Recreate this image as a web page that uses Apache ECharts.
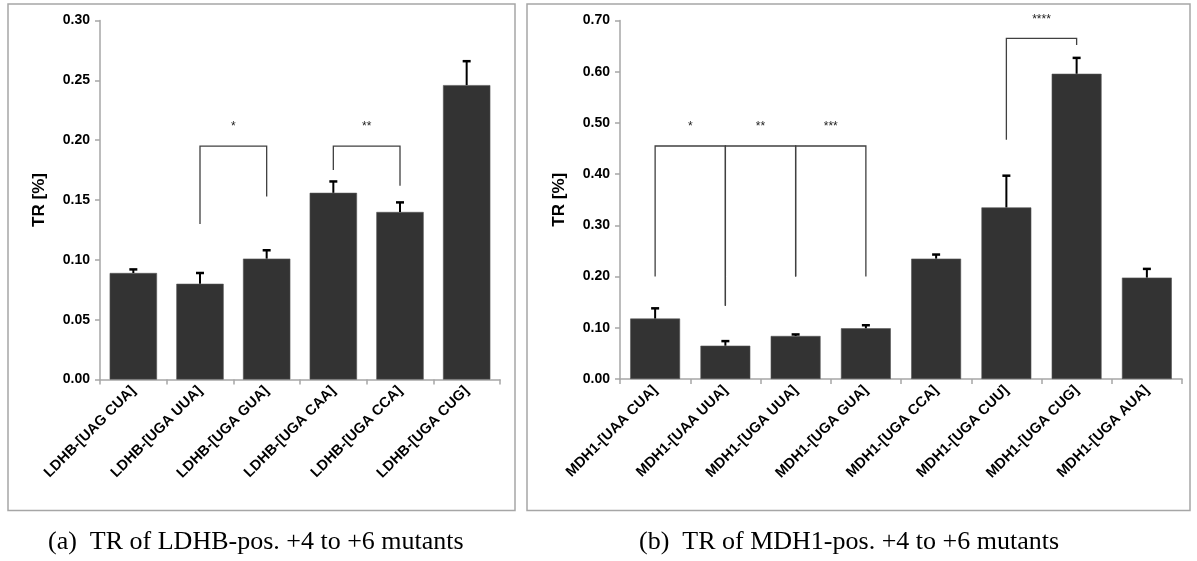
<!DOCTYPE html>
<html>
<head>
<meta charset="utf-8">
<script src="https://cdn.jsdelivr.net/npm/echarts@6/dist/echarts.min.js"></script>
<style>
  html, body { margin: 0; padding: 0; background: #ffffff; }
  #chart { width: 1197px; height: 561px; }
</style>
</head>
<body>
<div id="chart"></div>
<script>
// LDHB panel (a)
const ldhbCategories = ['LDHB-[UAG CUA]', 'LDHB-[UGA UUA]', 'LDHB-[UGA GUA]', 'LDHB-[UGA CAA]', 'LDHB-[UGA CCA]', 'LDHB-[UGA CUG]'];
const ldhbValues = [0.089, 0.080, 0.101, 0.156, 0.140, 0.246];
const ldhbErrors = [0.003, 0.009, 0.007, 0.0095, 0.008, 0.020];
// significance brackets: [fromIndex, toIndex, barHeight, leftLegEnd, rightLegEnd]
const ldhbBrackets = [[1, 2, 0.195, 0.130, 0.153], [3, 4, 0.195, 0.175, 0.162]];
const ldhbBracketLabels = ['*', '**'];

// MDH1 panel (b)
const mdh1Categories = ['MDH1-[UAA CUA]', 'MDH1-[UAA UUA]', 'MDH1-[UGA UUA]', 'MDH1-[UGA GUA]', 'MDH1-[UGA CCA]', 'MDH1-[UGA CUU]', 'MDH1-[UGA CUG]', 'MDH1-[UGA AUA]'];
const mdh1Values = [0.118, 0.065, 0.084, 0.099, 0.235, 0.335, 0.596, 0.198];
const mdh1Errors = [0.020, 0.009, 0.003, 0.006, 0.008, 0.062, 0.031, 0.017];
const mdh1Brackets = [[0, 1, 0.455, 0.200, 0.143], [1, 2, 0.455, 0.143, 0.200], [2, 3, 0.455, 0.200, 0.200], [5, 6, 0.665, 0.467, 0.652]];
const mdh1BracketLabels = ['*', '**', '***', '****'];

const captionA = '(a)  TR of LDHB-pos. +4 to +6 mutants';
const captionB = '(b)  TR of MDH1-pos. +4 to +6 mutants';

const AXIS_GRAY = '#a6a6a6';
const BAR_COLOR = '#333333';
const SANS = '"Liberation Sans", Arial, sans-serif';
const SERIF = '"Liberation Serif", "Times New Roman", serif';

// upward-only error bar with a short cap
function errorBarRender(params, api) {
  const x = api.value(0);
  const v = api.value(1);
  const e = api.value(2);
  const base = api.coord([x, v]);
  const top = api.coord([x, v + e]);
  const half = 4;
  return {
    type: 'group',
    children: [
      { type: 'line', shape: { x1: base[0], y1: base[1], x2: top[0], y2: top[1] }, style: { stroke: '#000', lineWidth: 2 } },
      { type: 'line', shape: { x1: top[0] - half, y1: top[1], x2: top[0] + half, y2: top[1] }, style: { stroke: '#000', lineWidth: 2.5 } }
    ]
  };
}

// significance bracket between two bars, with its star label above
function makeBracketRender(labels) {
  return function (params, api) {
    const a = api.value(0), b = api.value(1), h = api.value(2), l = api.value(3), r = api.value(4);
    const pL = api.coord([a, l]);
    const pLT = api.coord([a, h]);
    const pRT = api.coord([b, h]);
    const pR = api.coord([b, r]);
    return {
      type: 'group',
      children: [
        { type: 'polyline', shape: { points: [pL, pLT, pRT, pR] }, style: { stroke: '#404040', lineWidth: 1.3, fill: null } },
        { type: 'text', style: { text: labels[params.dataIndex], x: (pLT[0] + pRT[0]) / 2, y: pLT[1] - 19, align: 'center', verticalAlign: 'middle', font: '12px ' + SANS, fill: '#222' } }
      ]
    };
  };
}

function xAxisFor(cats, gridIndex) {
  return {
    type: 'category', gridIndex: gridIndex, data: cats,
    axisLine: { lineStyle: { color: AXIS_GRAY, width: 1.5 } },
    axisTick: { show: true, length: 5, lineStyle: { color: AXIS_GRAY, width: 1.5 } },
    axisLabel: { interval: 0, rotate: 45, margin: 9, fontFamily: SANS, fontWeight: 'bold', fontSize: 14.5, color: '#000' },
    splitLine: { show: false }
  };
}

function yAxisFor(max, interval, gridIndex) {
  return {
    type: 'value', gridIndex: gridIndex, min: 0, max: max, interval: interval,
    name: 'TR [%]', nameLocation: 'middle', nameRotate: 90, nameGap: 52,
    nameTextStyle: { fontFamily: SANS, fontWeight: 'bold', fontSize: 17, color: '#000' },
    axisLine: { show: true, lineStyle: { color: AXIS_GRAY, width: 1.5 } },
    axisTick: { show: true, length: 5, lineStyle: { color: AXIS_GRAY, width: 1.5 } },
    axisLabel: { margin: 10, fontFamily: SANS, fontWeight: 'bold', fontSize: 14, color: '#000', formatter: v => v.toFixed(2) },
    splitLine: { show: false }
  };
}

function barSeries(values, idx) {
  return {
    type: 'bar', xAxisIndex: idx, yAxisIndex: idx, data: values,
    barCategoryGap: '29%',
    itemStyle: { color: BAR_COLOR, borderColor: '#555', borderWidth: 0.6 },
    silent: true, animation: false
  };
}

function errorSeries(values, errors, idx) {
  return {
    type: 'custom', xAxisIndex: idx, yAxisIndex: idx,
    data: values.map((v, i) => [i, v, errors[i]]),
    encode: { x: 0, y: 1 },
    renderItem: errorBarRender, z: 5, silent: true, animation: false
  };
}

function bracketSeries(brackets, labels, idx) {
  return {
    type: 'custom', xAxisIndex: idx, yAxisIndex: idx,
    data: brackets,
    encode: { x: 0, y: 2 },
    renderItem: makeBracketRender(labels), z: 6, silent: true, animation: false, clip: false
  };
}

const chart = echarts.init(document.getElementById('chart'), null, { renderer: 'canvas' });
chart.setOption({
  backgroundColor: '#ffffff',
  animation: false,
  grid: [
    { left: 100, top: 20.5, width: 400, height: 359 },
    { left: 620, top: 20.5, width: 562, height: 358.5 }
  ],
  xAxis: [xAxisFor(ldhbCategories, 0), xAxisFor(mdh1Categories, 1)],
  yAxis: [yAxisFor(0.30, 0.05, 0), yAxisFor(0.70, 0.10, 1)],
  series: [
    barSeries(ldhbValues, 0),
    errorSeries(ldhbValues, ldhbErrors, 0),
    bracketSeries(ldhbBrackets, ldhbBracketLabels, 0),
    barSeries(mdh1Values, 1),
    errorSeries(mdh1Values, mdh1Errors, 1),
    bracketSeries(mdh1Brackets, mdh1BracketLabels, 1)
  ],
  graphic: [
    { type: 'rect', shape: { x: 8, y: 4, width: 507, height: 506.5 }, style: { fill: null, stroke: AXIS_GRAY, lineWidth: 1.5 }, silent: true },
    { type: 'rect', shape: { x: 527, y: 4, width: 663, height: 506.5 }, style: { fill: null, stroke: AXIS_GRAY, lineWidth: 1.5 }, silent: true },
    { type: 'text', x: 48, y: 542, style: { text: captionA, font: '26px ' + SERIF, fill: '#000', align: 'left', verticalAlign: 'middle' }, silent: true },
    { type: 'text', x: 639, y: 542, style: { text: captionB, font: '26px ' + SERIF, fill: '#000', align: 'left', verticalAlign: 'middle' }, silent: true }
  ]
});
</script>
</body>
</html>
